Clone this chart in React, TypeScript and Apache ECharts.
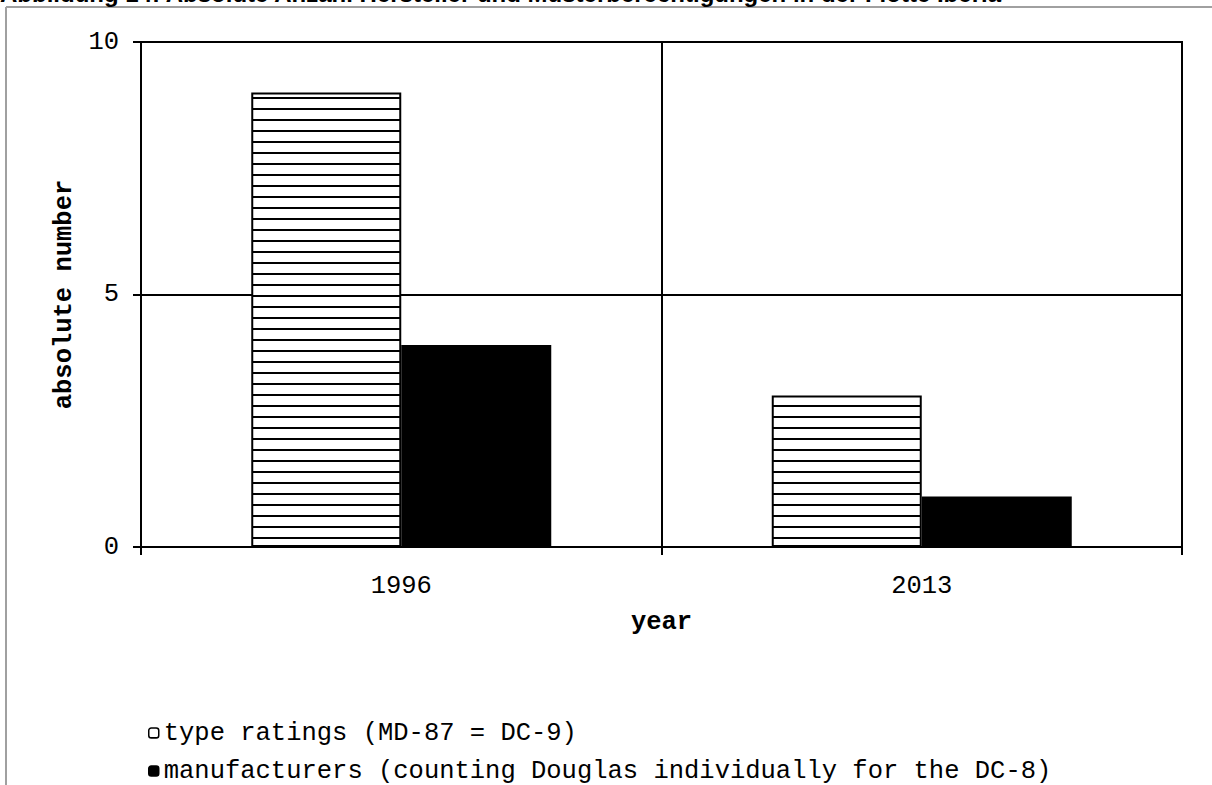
import React, { useEffect, useRef } from "react";
import * as echarts from "echarts";

const categories = ["1996", "2013"];
const typeRatings = [9, 3];
const manufacturers = [4, 1];
const seriesNames = [
  "type ratings (MD-87 = DC-9)",
  "manufacturers (counting Douglas individually for the DC-8)",
];
const titleText =
  "Abbildung 14: Absolute Anzahl Hersteller und Musterberechtigungen in der Flotte Iberia";
const yAxisName = "absolute number";
const xAxisName = "year";

function makeHatch(): HTMLCanvasElement {
  const c = document.createElement("canvas");
  c.width = 8;
  c.height = 11;
  const ctx = c.getContext("2d")!;
  ctx.fillStyle = "#ffffff";
  ctx.fillRect(0, 0, 8, 11);
  ctx.fillStyle = "#000000";
  ctx.fillRect(0, 9, 8, 2);
  return c;
}

export default function App() {
  const ref = useRef<HTMLDivElement>(null);
  useEffect(() => {
    if (!ref.current) return;
    const chart = echarts.init(ref.current, null, { renderer: "svg" });
    const mono = "Liberation Mono";
    const hatch = { image: makeHatch(), repeat: "repeat" } as any;
    const legendBase = {
      orient: "vertical",
      left: 148,
      padding: 0,
      itemWidth: 10,
      itemHeight: 10,
      itemStyle: { borderColor: "#000", borderWidth: 1.5 },
      textStyle: { fontFamily: mono, fontSize: 25.5, color: "#000", lineHeight: 26 },
    };
    chart.setOption({
      animation: false,
      backgroundColor: "#ffffff",
      textStyle: { fontFamily: mono, color: "#000" },
      grid: {
        left: 141,
        right: 30,
        top: 42,
        bottom: 238,
        show: true,
        borderColor: "#000",
        borderWidth: 2,
        backgroundColor: "transparent",
      },
      legend: [
        { ...legendBase, top: 720, data: [seriesNames[0]] },
        { ...legendBase, top: 758, data: [seriesNames[1]] },
      ],
      xAxis: {
        type: "category",
        data: categories,
        name: xAxisName,
        nameLocation: "middle",
        nameGap: 62,
        nameTextStyle: { fontFamily: mono, fontSize: 25.5, fontWeight: "bold", color: "#000" },
        axisLine: { lineStyle: { color: "#000", width: 2 } },
        axisTick: { show: true, length: 8, lineStyle: { color: "#000", width: 2 } },
        axisLabel: { fontFamily: mono, fontSize: 25.5, color: "#000", margin: 26 },
        splitLine: { show: true, interval: 0, lineStyle: { color: "#000", width: 2 } },
      },
      yAxis: {
        type: "value",
        min: 0,
        max: 10,
        interval: 5,
        name: yAxisName,
        nameLocation: "middle",
        nameGap: 64,
        nameRotate: 90,
        nameTextStyle: { fontFamily: mono, fontSize: 25.5, fontWeight: "bold", color: "#000" },
        axisLine: { show: true, lineStyle: { color: "#000", width: 2 } },
        axisTick: { show: true, length: 8, lineStyle: { color: "#000", width: 2 } },
        axisLabel: { fontFamily: mono, fontSize: 25.5, color: "#000", margin: 22 },
        splitLine: { show: true, lineStyle: { color: "#000", width: 2 } },
      },
      series: [
        {
          name: seriesNames[0],
          type: "bar",
          data: typeRatings,
          barWidth: 150,
          barGap: "0%",
          itemStyle: { color: hatch, borderColor: "#000", borderWidth: 2 },
        },
        {
          name: seriesNames[1],
          type: "bar",
          data: manufacturers,
          barWidth: 150,
          barGap: "0%",
          itemStyle: { color: "#000", borderColor: "#000", borderWidth: 2 },
        },
      ],
      graphic: [
        {
          type: "line",
          shape: { x1: 6, y1: 7, x2: 1212, y2: 7 },
          style: { stroke: "#a0a0a0", lineWidth: 2 },
          z: 100,
        },
        {
          type: "line",
          shape: { x1: 6, y1: 7, x2: 6, y2: 785 },
          style: { stroke: "#a0a0a0", lineWidth: 2 },
          z: 100,
        },
        {
          type: "text",
          left: 0,
          top: -19,
          style: {
            text: titleText,
            font: "bold 24px 'Liberation Sans'",
            fill: "#000",
          },
          z: 100,
        },
      ],
    });
    return () => chart.dispose();
  }, []);
  return (
    <div
      ref={ref}
      style={{ position: "fixed", left: 0, top: 0, width: 1212, height: 785 }}
    />
  );
}
